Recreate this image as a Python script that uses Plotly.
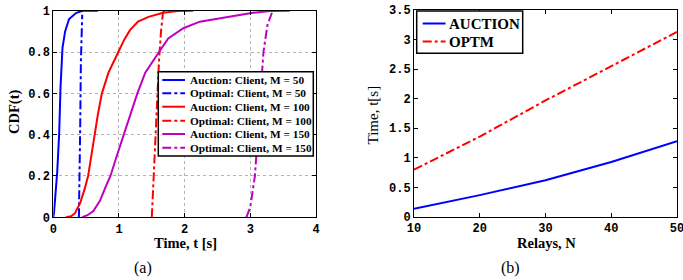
import plotly.graph_objects as go

# ---- Panel (a): CDF curves ----
auc50_t = [0.0, 0.01, 0.03, 0.06, 0.09, 0.11, 0.14, 0.18, 0.24, 0.35, 0.45, 0.68]
auc50_y = [0.0, 0.02, 0.10, 0.22, 0.41, 0.63, 0.82, 0.90, 0.96, 0.99, 1.0, 1.0]
opt50_t = [0.39, 0.40, 0.41, 0.42, 0.43, 0.44]
opt50_y = [0.0, 0.15, 0.45, 0.75, 0.93, 0.98]

auc100_t = [0.19, 0.27, 0.33, 0.41, 0.48, 0.53, 0.58, 0.625, 0.68, 0.74, 0.84, 0.93,
            0.99, 1.08, 1.17, 1.29, 1.45, 1.67, 1.90, 2.13]
auc100_y = [0.0, 0.005, 0.02, 0.07, 0.14, 0.2, 0.3, 0.4, 0.5, 0.6, 0.7, 0.76,
            0.8, 0.86, 0.907, 0.947, 0.97, 0.99, 0.998, 1.0]
opt100_t = [1.50, 1.53, 1.56, 1.58, 1.61, 1.64, 1.67, 1.69]
opt100_y = [0.0, 0.2, 0.4, 0.6, 0.76, 0.9, 0.99, 1.0]

auc150_t = [0.44, 0.52, 0.61, 0.71, 0.80, 0.87, 0.97, 1.07, 1.18, 1.28, 1.40, 1.50,
            1.61, 1.75, 1.98, 2.23, 2.69, 3.04, 3.30, 3.60]
auc150_y = [0.0, 0.01, 0.03, 0.08, 0.15, 0.2, 0.3, 0.4, 0.5, 0.6, 0.7, 0.75,
            0.8, 0.866, 0.915, 0.947, 0.97, 0.99, 0.998, 1.0]
opt150_t = [2.94, 3.00, 3.07, 3.12, 3.16, 3.20, 3.26, 3.32, 3.34]
opt150_y = [0.0, 0.05, 0.2, 0.45, 0.64, 0.8, 0.93, 0.99, 1.0]

# ---- Panel (b) ----
relays = [10, 20, 30, 40, 50]
auction_time = [0.14, 0.37, 0.62, 0.93, 1.28]
optm_time = [0.80, 1.36, 1.97, 2.55, 3.13]

legend_a = ["Auction: Client, M = 50", "Optimal: Client, M = 50",
            "Auction: Client, M = 100", "Optimal: Client, M = 100",
            "Auction: Client, M = 150", "Optimal: Client, M = 150"]
legend_b = ["AUCTION", "OPTM"]

BLUE = "#0000ff"
RED = "#ff0000"
PURP = "#bf00bf"
colors_a = [BLUE, BLUE, RED, RED, PURP, PURP]
dashes_a = ["solid", "dashdot"] * 3
colors_b = [BLUE, RED]
dashes_b = ["solid", "dashdot"]

W, H = 683, 280
fig = go.Figure()

series_a = [(auc50_t, auc50_y), (opt50_t, opt50_y), (auc100_t, auc100_y),
            (opt100_t, opt100_y), (auc150_t, auc150_y), (opt150_t, opt150_y)]
for (x, y), name, c, d in zip(series_a, legend_a, colors_a, dashes_a):
    fig.add_trace(go.Scatter(x=x, y=y, mode="lines", name=name,
                             line=dict(color=c, width=2, dash=d),
                             xaxis="x", yaxis="y", showlegend=False))

for yv, name, c, d in zip([auction_time, optm_time], legend_b, colors_b, dashes_b):
    fig.add_trace(go.Scatter(x=relays, y=yv, mode="lines", name=name,
                             line=dict(color=c, width=2, dash=d),
                             xaxis="x2", yaxis="y2", showlegend=False))

tickfont = dict(family="Liberation Mono", size=12, color="black", weight="bold")
title_font = dict(family="Liberation Serif", size=14.5, color="black", weight="bold")

common = dict(showline=True, linecolor="black", linewidth=1, mirror="ticks",
              ticks="inside", ticklen=4, tickcolor="black", tickfont=tickfont,
              zeroline=False, automargin=False)

fig.update_layout(
    width=W, height=H,
    margin=dict(l=0, r=0, t=0, b=0, pad=0),
    paper_bgcolor="white", plot_bgcolor="white",
    showlegend=False,
    xaxis=dict(domain=[53.3 / W, 316 / W], range=[0, 4], tickvals=[0, 1, 2, 3, 4],
               showgrid=True, gridcolor="#b4b4b4", griddash="dot", gridwidth=1,
               anchor="y", **common),
    yaxis=dict(domain=[1 - 217.3 / H, 1 - 10.7 / H], range=[0, 1],
               tickvals=[0, 0.2, 0.4, 0.6, 0.8, 1],
               ticktext=["0", "0.2", "0.4", "0.6", "0.8", "1"],
               showgrid=True, gridcolor="#b4b4b4", griddash="dot", gridwidth=1,
               anchor="x", **common),
    xaxis2=dict(domain=[414 / W, 677 / W], range=[10, 50], tickvals=[10, 20, 30, 40, 50],
                showgrid=False, anchor="y2", ticklabeloverflow="allow", **common),
    yaxis2=dict(domain=[1 - 217 / H, 1 - 10 / H], range=[0, 3.5],
                tickvals=[0, 0.5, 1, 1.5, 2, 2.5, 3, 3.5],
                ticktext=["0", "0.5", "1", "1.5", "2", "2.5", "3", "3.5"],
                showgrid=False, anchor="x2", **common),
)

def px(x):
    return x / W

def py(y):
    return 1 - y / H

shapes = []
annots = []

# Legend (a)
shapes.append(dict(type="rect", xref="paper", yref="paper", layer="above",
                   x0=px(158.3), x1=px(313.3), y0=py(156), y1=py(71.7),
                   fillcolor="white", line=dict(color="black", width=1.5)))
rows_a = [80, 93.3, 106.7, 120.7, 134, 147.7]
for ry, name, c, d in zip(rows_a, legend_a, colors_a, dashes_a):
    shapes.append(dict(type="line", xref="paper", yref="paper", layer="above",
                       x0=px(162.3), x1=px(185), y0=py(ry), y1=py(ry),
                       line=dict(color=c, width=2, dash=d)))
    annots.append(dict(text=name, x=px(187.5), y=py(ry), xanchor="left", yanchor="middle",
                       font=dict(family="Liberation Serif", size=11.3, color="black",
                                 weight="bold")))

# Legend (b)
shapes.append(dict(type="rect", xref="paper", yref="paper", layer="above",
                   x0=px(416.7), x1=px(522.7), y0=py(53.3), y1=py(11),
                   fillcolor="white", line=dict(color="black", width=1.5)))
rows_b = [23.5, 41.5]
for ry, name, c, d in zip(rows_b, legend_b, colors_b, dashes_b):
    shapes.append(dict(type="line", xref="paper", yref="paper", layer="above",
                       x0=px(422.7), x1=px(445.5), y0=py(ry), y1=py(ry),
                       line=dict(color=c, width=2, dash=d)))
    annots.append(dict(text=name, x=px(446.7), y=py(ry), xanchor="left", yanchor="middle",
                       font=dict(family="Liberation Serif", size=15, color="black",
                                 weight="bold")))

annots += [
    dict(text="Time, t [s]", x=px(185), y=py(243), xanchor="center", yanchor="middle",
         font=title_font),
    dict(text="CDF(t)", x=px(14), y=py(112), xanchor="center", yanchor="middle",
         font=title_font, textangle=-90),
    dict(text="Relays, N", x=px(546), y=py(243), xanchor="center", yanchor="middle",
         font=title_font),
    dict(text="Time, t[s]", x=px(372), y=py(115.5), xanchor="center", yanchor="middle",
         font=dict(family="Liberation Serif", size=15, color="black"), textangle=-90),
    dict(text="(a)", x=px(143), y=py(268), xanchor="center", yanchor="middle",
         font=dict(family="Liberation Serif", size=16, color="black")),
    dict(text="(b)", x=px(510), y=py(268), xanchor="center", yanchor="middle",
         font=dict(family="Liberation Serif", size=16, color="black")),
]
for a in annots:
    a.update(xref="paper", yref="paper", showarrow=False)

fig.update_layout(shapes=shapes, annotations=annots)

fig.write_html("out.html", config={"displayModeBar": False},
               post_script="document.body.style.margin='0';document.body.style.overflow='hidden';")
